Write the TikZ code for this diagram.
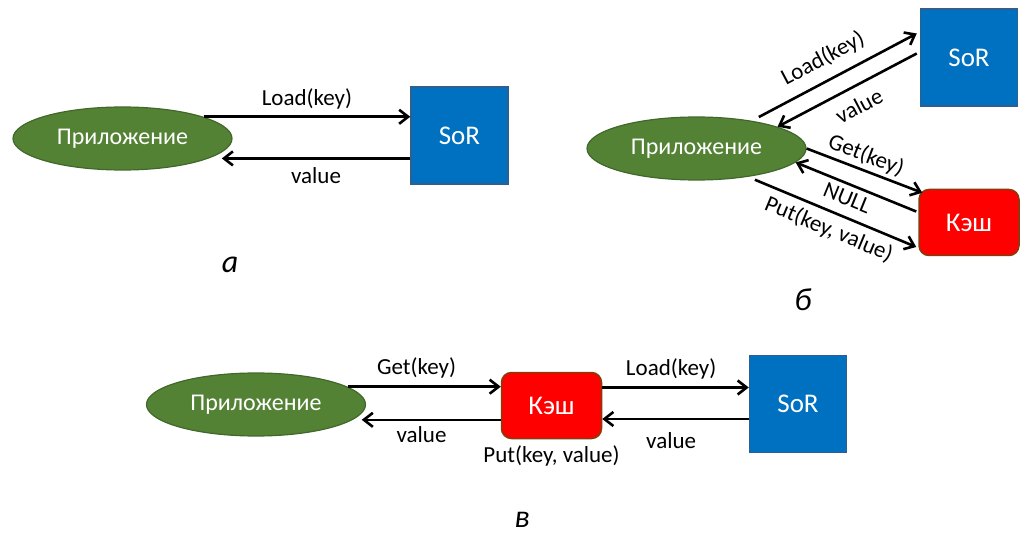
\documentclass[tikz,border=0pt]{standalone}
\usepackage{fontspec}
\setmainfont{Carlito}
\usepackage{xcolor}
\usepackage{tikz}
\usetikzlibrary{shapes.geometric, arrows.meta, positioning}

\definecolor{appgreen}{HTML}{548235}
\definecolor{appborder}{HTML}{41682A}
\definecolor{sorblue}{HTML}{0070C0}
\definecolor{sorborder}{HTML}{2F5F8F}
\definecolor{kashred}{HTML}{FF0000}
\definecolor{kashborder}{HTML}{843C0C}

\begin{document}
\begin{tikzpicture}[x=1pt, y=-1pt,
	app/.style={ellipse, draw=appborder, line width=1.2pt, fill=appgreen, minimum width=219pt, minimum height=63pt, inner sep=0pt, text=white, font=\fontsize{24}{28}\selectfont},
	sor/.style={rectangle, draw=sorborder, line width=1.5pt, fill=sorblue, minimum size=97pt, text=white, font=\fontsize{27}{31}\selectfont},
	kash/.style={rectangle, rounded corners=10pt, draw=kashborder, line width=1.5pt, fill=kashred, minimum width=100pt, minimum height=66pt, text=white, font=\fontsize{27}{31}\selectfont},
	seta/.style={line width=2.6pt, -{Straight Barb[length=9pt, width=14pt]}},
	rotulo/.style={font=\fontsize{23}{27}\selectfont, inner sep=2pt},
	letra/.style={font=\fontsize{32}{36}\selectfont\itshape}]
			\useasboundingbox (0,0) rectangle (1033,537);
			
			%% Painel a
			\node[app] (appA) at (122.5,138.5) {Приложение};
			\node[sor] (sorA) at (459.5,135.5) {SoR};
			\draw[seta] (appA.15) -- (appA.15 -| sorA.west)
			node [rotulo, midway, above=4pt] {Load(key)};
			\draw[seta] (sorA.west |- appA.-13) -- ([xshift=13pt]appA.-13)
			node [rotulo, midway, below=6pt] {value};
			\node[letra] (letraA) at (230,265) {а};
			
			%% Painel b
			\node[app] (appB) at (696.5,148.5) {Приложение};
			\node[sor] (sorB) at (969,57.5) {SoR};
			\node[kash] (kashB) at (969,222.5) {Кэш};
			\draw[seta] ([yshift=5pt]appB.23) -- ([shift={(-3pt,24pt)}]sorB.west)
			node [rotulo, pos=0.47, sloped, above=8pt] {Load(key)};
			\draw[seta] ([shift={(-3pt,4pt)}]sorB.west) -- (appB.15)
			node [rotulo, pos=0.48, sloped, below=8pt] {value};
			\draw[seta] (appB.east) -- ([shift={(4pt,-4pt)}]kashB.north west)
			node [rotulo, pos=0.47, sloped, above=1pt] {Get(key)};
			\draw[seta] ([shift={(-2pt,11pt)}]kashB.west) -- (appB.-8)
			node [rotulo, pos=0.53, sloped, below=3pt] {NULL};
			\draw[seta] ([yshift=-4pt]appB.-25) -- ([shift={(-2pt,-24.5pt)}]kashB.west)
			node [rotulo, midway, sloped, below=4pt] {Put(key, value)};
			\node[letra] (letraB) at (803,300) {б};
			
			%% Painel c
			\node[app] (appC) at (256,404.5) {Приложение};
			\node[kash] (kashC) at (551.5,405.5) {Кэш};
			\node[sor] (sorC) at (798,404) {SoR};
			\draw[seta] (appC.11) -- (appC.11 -| kashC.west)
			node [rotulo, pos=0.45, above=5pt] {Get(key)};
			\draw[seta] (kashC.west |- appC.-9) -- ([xshift=9pt]appC.-9)
			node [rotulo, pos=0.57, below=3pt] {value};
			\draw[seta] ([yshift=18pt]kashC.east) -- ([yshift=18pt]kashC.east -| sorC.west)
			node [rotulo, pos=0.47, above=5pt] {Load(key)};
			\draw[seta] ([yshift=-15pt]sorC.west) -- ([yshift=-15pt]sorC.west -| kashC.east)
			node [rotulo, pos=0.53, below=10pt] {value};
			\node[rotulo, below=4pt of kashC] (putC) {Put(key, value)};
			\node[letra] (letraC) at (522,520) {в};
\end{tikzpicture}
\end{document}
